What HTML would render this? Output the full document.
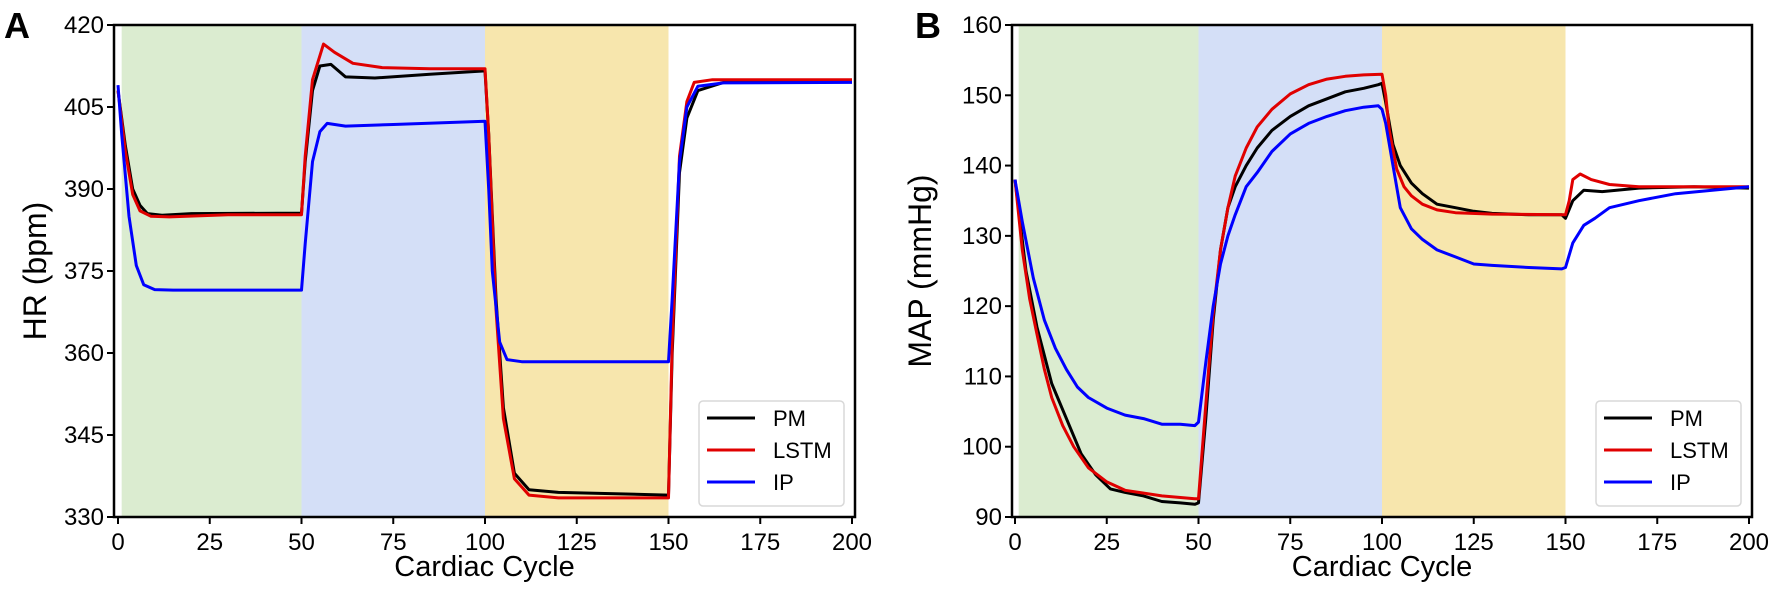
<!DOCTYPE html>
<html><head><meta charset="utf-8"><style>
body{margin:0;background:#fff;width:1772px;height:594px;overflow:hidden}
svg{display:block;font-family:"Liberation Sans",Arial,sans-serif}
</style></head><body>
<svg id="c" width="1772" height="594"></svg>
<script>
const NS="http://www.w3.org/2000/svg";
const svg=document.getElementById('c');
const xTicks=[0,25,50,75,100,125,150,175,200];
const regions=[[1,50,'#dbecd0'],[50,100,'#d4dff7'],[100,150,'#f7e6ad']];
const seriesNames=['PM','LSTM','IP'];
const seriesColors=['#000000','#e00000','#0000ff'];
// Panel A (HR)
const aTicks=[330,345,360,375,390,405,420];
const aPMx=[0,2,4,6,8,12,20,50,51,53,55,58,62,70,85,100,101,103,105,108,112,120,150,151,153,155,158,165,200];
const aPMy=[408,398,390,387,385.5,385.2,385.5,385.6,395,408,412.5,412.8,410.5,410.3,411,411.6,400,370,350,338,335,334.5,334,360,393,403,408,409.5,409.8];
const aLSx=[0,2,4,6,9,14,30,50,51,53,56,59,64,72,85,100,101,103,105,108,112,120,150,151,153,155,157,162,200];
const aLSy=[408,397,389,386,385,384.9,385.3,385.3,396,410,416.5,415,413,412.2,412,412,400,368,348,337,334,333.5,333.5,362,396,406,409.5,410,410];
const aIPx=[0,1,3,5,7,10,15,30,50,51,53,55,57,62,75,100,101,102,104,106,110,120,150,151,153,155,158,165,200];
const aIPy=[409,400,385,376,372.5,371.6,371.5,371.5,371.5,380,395,400.5,402,401.5,401.8,402.4,390,375,362,358.8,358.4,358.4,358.4,370,395,405,408.8,409.4,409.5];
// Panel B (MAP)
const bTicks=[90,100,110,120,130,140,150,160];
const bPMx=[0,3,6,10,14,18,22,26,30,35,40,45,49,50,52,54,56,58,60,63,66,70,75,80,85,90,95,99,100,101,103,105,108,111,115,120,125,130,140,149,150,152,155,160,170,185,200];
const bPMy=[138,125,117,109,104,99,96,94,93.5,93,92.2,92,91.8,92,104,118,128,134,137,140,142.5,145,147,148.5,149.5,150.5,151,151.5,151.7,149,143,140,137.5,136,134.5,134,133.5,133.2,133,133,132.5,135,136.5,136.3,136.8,137,136.8];
const bLSx=[0,2,4,6,8,10,13,16,20,25,30,40,49,50,52,54,56,58,60,63,66,70,75,80,85,90,95,100,101,102,104,106,108,111,115,120,130,150,151,152,154,157,162,170,200];
const bLSy=[138,128,121,116,111,107,103,100,97,95,93.8,93,92.6,92.6,106,119,128,134,138.5,142.5,145.5,148,150.2,151.5,152.3,152.7,152.9,153,150,145,139.5,137,135.7,134.5,133.7,133.3,133.1,133,135,138,138.8,138,137.3,137,137];
const bIPx=[0,2,5,8,11,14,17,20,25,30,35,40,45,49,50,52,54,56,58,60,63,66,70,75,80,85,90,95,99,100,101,103,105,108,111,115,120,125,130,140,149,150,152,155,158,162,170,180,190,200];
const bIPy=[138,132,124,118,114,111,108.5,107,105.5,104.5,104,103.2,103.2,103,103.5,112,120,126,130,133,137,139,142,144.5,146,147,147.8,148.3,148.5,148,146,140,134,131,129.5,128,127,126,125.8,125.5,125.3,125.5,129,131.5,132.5,134,135,136,136.5,137];

function el(tag,attrs,parent){const e=document.createElementNS(NS,tag);for(const k in attrs)e.setAttribute(k,attrs[k]);(parent||svg).appendChild(e);return e;}

function panel(o){
  const g=el('g',{});
  
  
  const X=v=>o.x0+(v-0)*(o.x200-o.x0)/200;
  const Y=v=>o.yB+(v-o.ymin)*(o.yT-o.yB)/(o.ymax-o.ymin);
  regions.forEach((r,i)=>{
    const rc=el('rect',{x:X(r[0]),y:o.yT,width:X(r[1])-X(r[0]),height:o.yB-o.yT,fill:r[2]},g);
    
    
  });
  o.series.forEach((s,i)=>{
    let d='';s[0].forEach((xv,j)=>{d+=(j?'L':'M')+X(xv).toFixed(1)+' '+Y(s[1][j]).toFixed(1);});
    const p=el('path',{d:d,fill:'none',stroke:seriesColors[i],'stroke-width':3,'stroke-linejoin':'round'},g);
    
    
  });
  const fr=el('rect',{x:o.left,y:o.yT,width:o.right-o.left,height:o.yB-o.yT,fill:'none',stroke:'#000','stroke-width':2.5},g);
  
  
  xTicks.forEach(t=>{
    el('line',{x1:X(t),x2:X(t),y1:o.yB,y2:o.yB+7,stroke:'#000','stroke-width':2},g);
    const tx=el('text',{x:X(t),y:o.yB+33,'text-anchor':'middle','font-size':24},g);tx.textContent=t;
    
    
  });
  o.yTicks.forEach(t=>{
    el('line',{x1:o.left-7,x2:o.left,y1:Y(t),y2:Y(t),stroke:'#000','stroke-width':2},g);
    const tx=el('text',{x:o.left-10,y:Y(t)+8,'text-anchor':'end','font-size':24},g);tx.textContent=t;
    
    
  });
  const xl=el('text',{x:(o.left+o.right)/2,y:576,'text-anchor':'middle','font-size':29},g);xl.textContent='Cardiac Cycle';
  
  
  const yl=el('text',{x:0,y:0,'text-anchor':'middle','font-size':32,transform:`translate(${o.ylx},${(o.yT+o.yB)/2}) rotate(-90)`},g);yl.textContent=o.ylabel;
  
  
  const pl=el('text',{x:o.lx,y:38,'font-size':36,'font-weight':'bold'},g);pl.textContent=o.letter;
  
  
  const lg=el('g',{},g);
  
  
  el('rect',{x:o.right-156,y:401,width:145,height:105,rx:4,fill:'#fff',stroke:'#d8d8d8','stroke-width':1.5},lg);
  seriesNames.forEach((n,i)=>{
    const yy=418+i*32;
    el('line',{x1:o.right-148,x2:o.right-100,y1:yy,y2:yy,stroke:seriesColors[i],'stroke-width':3},lg);
    const t=el('text',{x:o.right-82,y:yy+8,'font-size':22},lg);t.textContent=n;
    
    
  });
}
panel({name:'panel-a-hr',x0:118,x200:852,left:114,right:855,yT:25,yB:517,ymin:330,ymax:420,yTicks:aTicks,
  series:[[aPMx,aPMy],[aLSx,aLSy],[aIPx,aIPy]],ylabel:'HR (bpm)',ylx:46,letter:'A',lx:4});
panel({name:'panel-b-map',x0:1015,x200:1749,left:1012,right:1752,yT:25,yB:517,ymin:90,ymax:160,yTicks:bTicks,
  series:[[bPMx,bPMy],[bLSx,bLSy],[bIPx,bIPy]],ylabel:'MAP (mmHg)',ylx:931,letter:'B',lx:915});
</script>
</body></html>
